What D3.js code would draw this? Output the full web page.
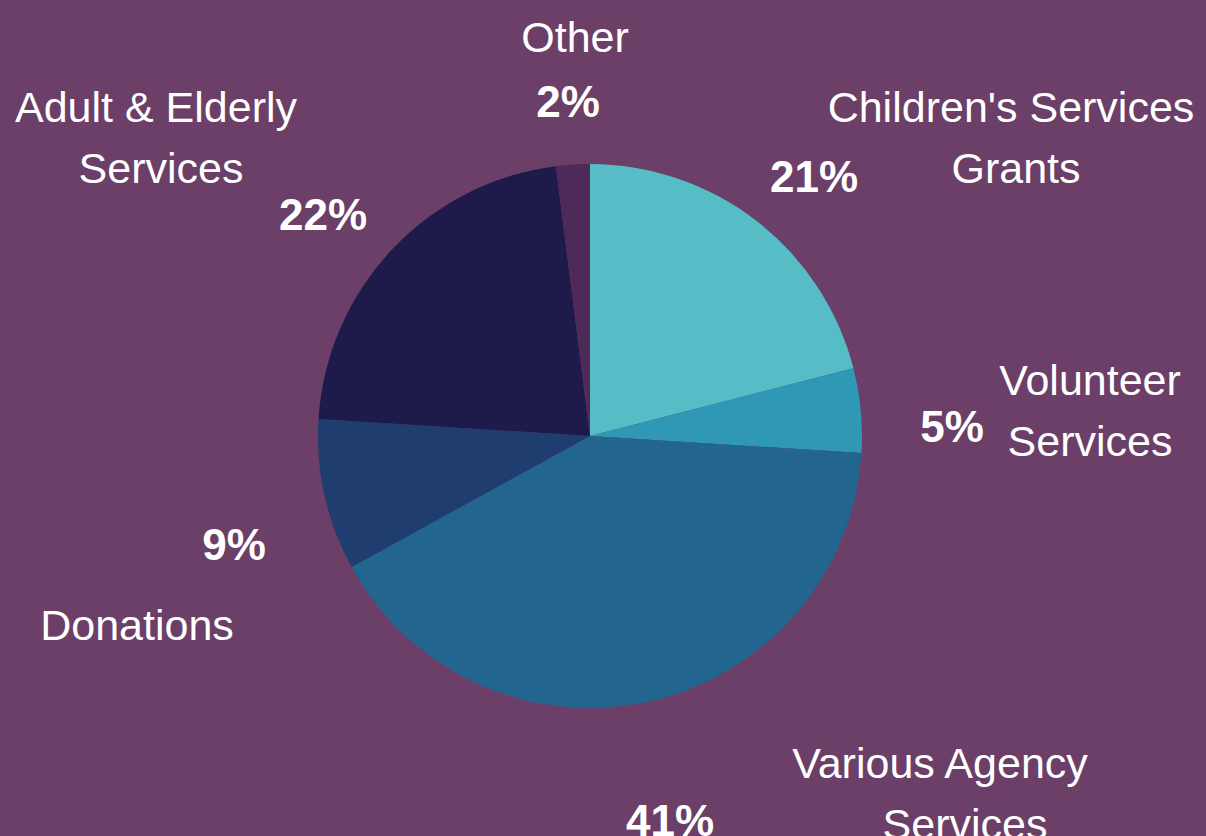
<!DOCTYPE html>
<html>
<head>
<meta charset="utf-8">
<script src="https://cdn.jsdelivr.net/npm/d3@7"></script>
<style>
  html, body { margin: 0; padding: 0; background: #6b3f67; overflow: hidden; }
  svg { display: block; }
  text { font-family: "Liberation Sans", Arial, sans-serif; fill: #ffffff; }
</style>
</head>
<body>
<svg id="chart" width="1206" height="836"></svg>
<script>
// Data (clockwise from 12 o'clock)
const categories = ["Children's Services Grants", "Volunteer Services", "Various Agency Services", "Donations", "Adult & Elderly Services", "Other"];
const values = [21, 5, 41, 9, 22, 2];
const colors = ["#56bcc5", "#2f98b5", "#22668f", "#1f3e6f", "#1e1b4b", "#4e2a58"];
// Label lines for each category
const labelLines = [["Children's Services", "Grants"], ["Volunteer", "Services"], ["Various Agency", "Services"], ["Donations"], ["Adult & Elderly", "Services"], ["Other"]];
const pctLabels = values.map(v => v + "%");

const W = 1206, H = 836;
const cx = 590, cy = 436, R = 272;

const svg = d3.select("#chart");
svg.append("rect").attr("width", W).attr("height", H).attr("fill", "#6b3f67");

const pie = d3.pie().sort(null).value(d => d);
const arcs = pie(values);
const arc = d3.arc().innerRadius(0).outerRadius(R);

const g = svg.append("g").attr("transform", `translate(${cx},${cy})`);
g.selectAll("path").data(arcs).enter().append("path")
  .attr("d", arc)
  .attr("fill", (d, i) => colors[i]);

// Label placement (layout, relative to pie center)
const pctPos = [[224, -244], [362, 6], [80, 400], [-356, 124], [-267, -206], [-22, -319]];
const namePos = [[421, -314], [500, -41], [350, 342], [-453, 204], [-434, -314], [-15, -384]];
const nameDx = [[0, 5], [0, 0], [0, 25], [0], [0, 5], [0]];
const lineH = 61;

arcs.forEach((a, i) => {
  g.append("text")
    .attr("x", pctPos[i][0]).attr("y", pctPos[i][1])
    .attr("text-anchor", "middle")
    .attr("font-size", 44).attr("font-weight", "bold")
    .attr("letter-spacing", 0)
    .text(pctLabels[i]);
  labelLines[i].forEach((ln, k) => {
    g.append("text")
      .attr("x", namePos[i][0] + nameDx[i][k]).attr("y", namePos[i][1] + k * lineH)
      .attr("text-anchor", "middle")
      .attr("font-size", 43)
      .text(ln);
  });
});
</script>
</body>
</html>
